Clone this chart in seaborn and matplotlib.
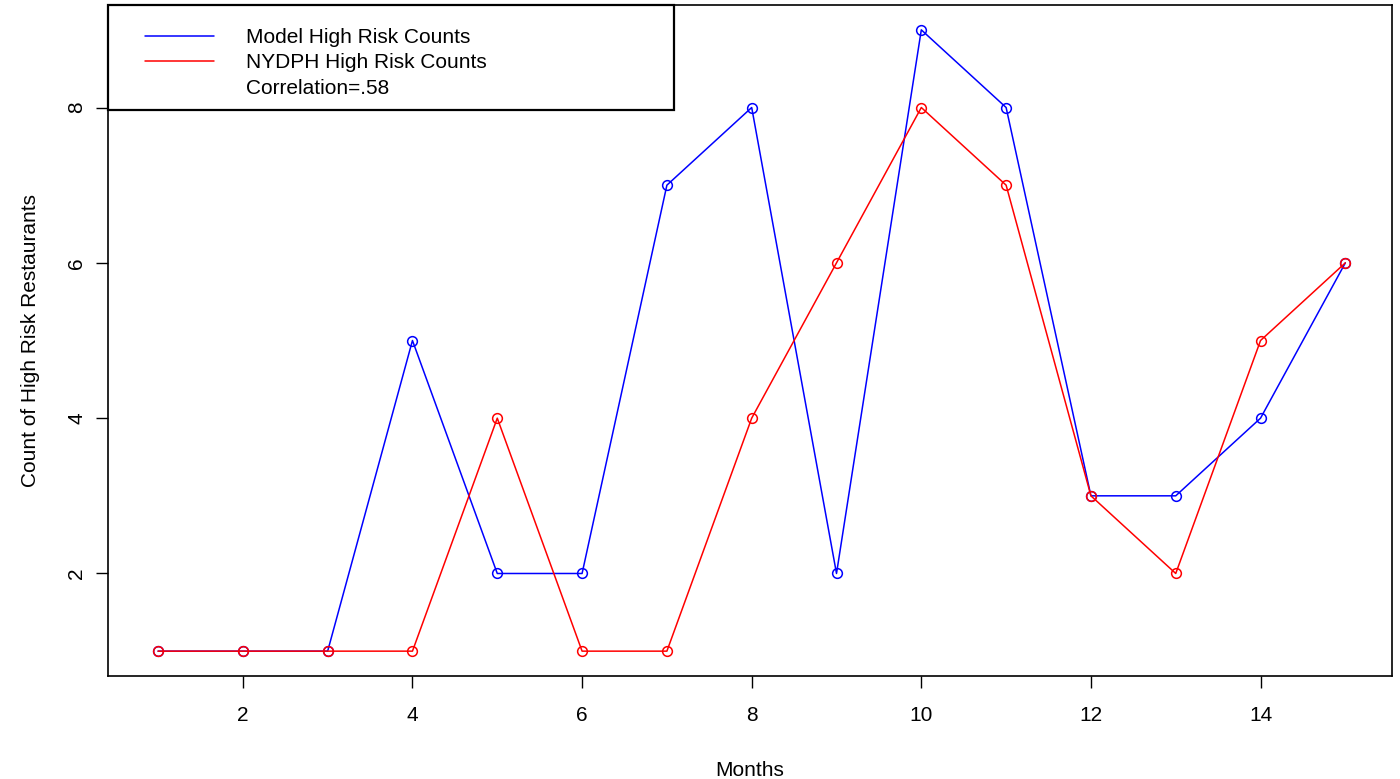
import numpy as np
import pandas as pd
import matplotlib
matplotlib.use('Agg')
import matplotlib.pyplot as plt
import seaborn as sns
from matplotlib.lines import Line2D
from matplotlib.patches import Rectangle

# valores
months = list(range(1, 16))
model_counts = [1, 1, 1, 5, 2, 2, 7, 8, 2, 9, 8, 3, 3, 4, 6]
nydph_counts = [1, 1, 1, 1, 4, 1, 1, 4, 6, 8, 7, 3, 2, 5, 6]
series_names = ['Model High Risk Counts', 'NYDPH High Risk Counts']
series_colors = ['blue', 'red']
x_ticks = [2, 4, 6, 8, 10, 12, 14]
y_ticks = [2, 4, 6, 8]

df = pd.DataFrame({
    'Months': months * 2,
    'Count': model_counts + nydph_counts,
    'Serie': [series_names[0]] * len(months) + [series_names[1]] * len(months),
})

sns.set_style('white')
plt.rcParams['font.family'] = ['Liberation Sans', 'DejaVu Sans']
plt.rcParams['text.color'] = 'black'
plt.rcParams['axes.labelcolor'] = 'black'
plt.rcParams['xtick.color'] = 'black'
plt.rcParams['ytick.color'] = 'black'

fig = plt.figure(figsize=(14, 7.79), dpi=100)
ax = fig.add_axes([108 / 1400, 1 - 676 / 779, 1284 / 1400, 671 / 779])

sns.lineplot(data=df, x='Months', y='Count', hue='Serie', palette=series_colors,
             marker='o', markersize=7, mfc='none', markeredgewidth=1.1,
             linewidth=1.1, legend=False, ax=ax)
for line, c in zip(ax.lines, series_colors):
    line.set_markeredgecolor(c)

# limites no estilo R (4% de margem), um pouco deslocado como no original
ax.set_xlim(0.41, 15.55)
ymin, ymax = 1, 9
yr = ymax - ymin
ax.set_ylim(ymin - 0.04 * yr, ymax + 0.04 * yr)

ax.set_xticks(x_ticks)
ax.set_yticks(y_ticks)
ax.tick_params(axis='both', direction='out', length=8.5, width=1, colors='black',
               labelsize=15, bottom=True, left=True)
ax.tick_params(axis='x', pad=13)
ax.tick_params(axis='y', pad=7)
for lab in ax.get_yticklabels():
    lab.set_rotation(90)
    lab.set_va('center')

for s in ax.spines.values():
    s.set_color('black')
    s.set_linewidth(1.2)

ax.set_xlabel('Months', fontsize=15, labelpad=26)
ax.set_ylabel('Count of High Risk Restaurants', fontsize=15, labelpad=20)

# caixa da legenda
ax.add_patch(Rectangle((0, (676 - 110) / 671), (674 - 108) / 1284, 105 / 671,
                       transform=ax.transAxes, facecolor='white', edgecolor='black',
                       linewidth=1.6, zorder=5, clip_on=False))
handles = [Line2D([], [], color=series_colors[0], lw=1.1),
           Line2D([], [], color=series_colors[1], lw=1.1),
           Line2D([], [], color='none')]
leg = ax.legend(handles, series_names + ['Correlation=.58'], loc='upper left',
                bbox_to_anchor=((145 - 108) / 1284, (676 - 28) / 671),
                frameon=False, fontsize=15, handlelength=3.3, handletextpad=1.55,
                labelspacing=0.3, borderpad=0, borderaxespad=0)
leg.set_zorder(6)

plt.savefig('out.png', dpi=100)
